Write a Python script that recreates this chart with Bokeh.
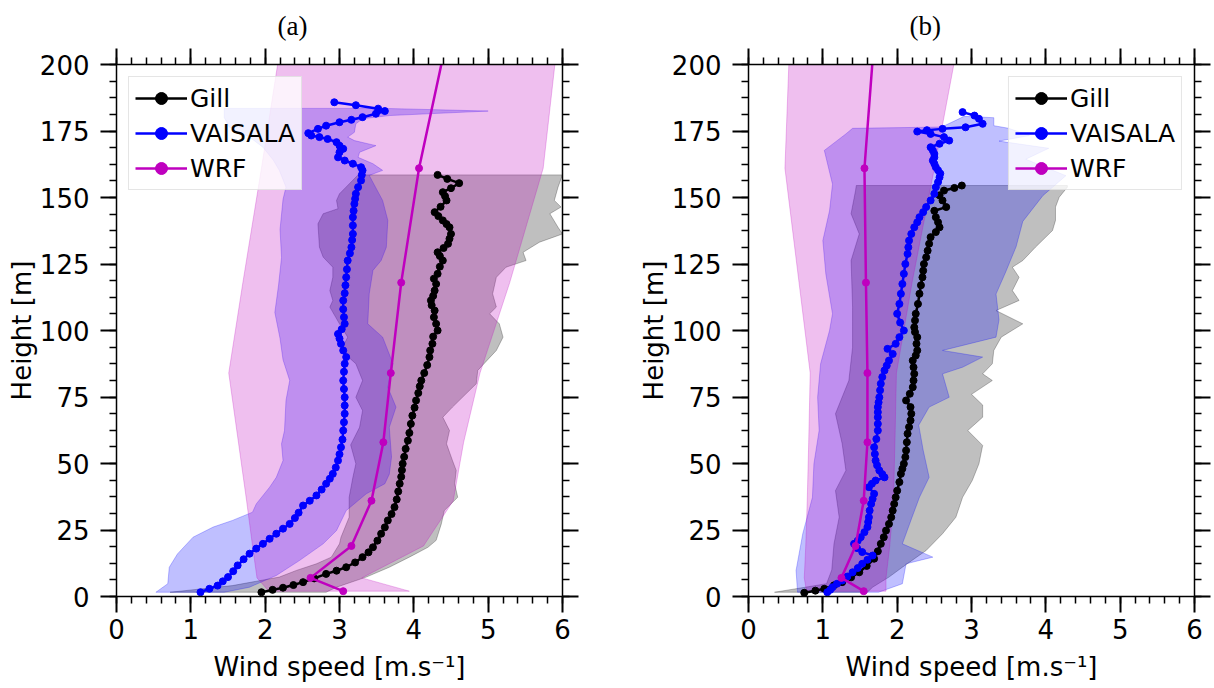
from bokeh.plotting import figure
from bokeh.layouts import row
from bokeh.models import LinearAxis, Range1d, SingleIntervalTicker, CustomJSTickFormatter, Spacer
from bokeh.embed import file_html
from bokeh.resources import INLINE

# ---------------- data: panel (a) ----------------
gill_a_h = [1.6, 2.5, 3.3, 4.3, 5.4, 6.8, 8.5, 9.7, 11.0, 12.8, 14.8, 16.6, 18.5, 21.0, 23.6, 26.0, 28.6, 31.0,
            33.6, 36.5, 39.5, 42.4, 45.0, 47.5, 49.9, 52.5, 55.5, 58.6, 61.5, 64.9, 68.0, 71.0, 73.7, 76.5, 79.0,
            81.2, 84.0, 87.0, 90.0, 92.5, 95.0, 97.7, 100.0, 102.5, 105.0, 107.5, 109.5, 111.3, 113.0, 115.0,
            117.5, 119.5, 121.3, 124.0, 126.3, 128.0, 129.4, 131.0, 132.6, 134.5, 136.3, 138.8, 140.0, 141.4,
            143.0, 144.5, 146.5, 148.9, 150.5, 152.0, 153.5, 155.4, 157.0, 158.5]
gill_a_v = [1.95, 2.10, 2.24, 2.38, 2.51, 2.66, 2.82, 2.96, 3.09, 3.21, 3.31, 3.39, 3.45, 3.51, 3.56, 3.61, 3.65, 3.70,
            3.74, 3.77, 3.79, 3.81, 3.83, 3.84, 3.85, 3.87, 3.89, 3.92, 3.94, 3.96, 3.98, 4.01, 4.03, 4.06, 4.08,
            4.10, 4.14, 4.18, 4.21, 4.22, 4.25, 4.26, 4.32, 4.30, 4.27, 4.28, 4.24, 4.23, 4.26, 4.28,
            4.30, 4.27, 4.32, 4.35, 4.39, 4.35, 4.32, 4.40, 4.46, 4.48, 4.50, 4.48, 4.44, 4.39,
            4.33, 4.28, 4.36, 4.44, 4.42, 4.39, 4.50, 4.61, 4.45, 4.32]

vais_a_h = [1.6, 2.9, 4.1, 5.7, 7.3, 9.5, 11.7, 14.0, 16.1, 18.0, 19.8, 21.7, 23.6, 25.5, 27.3, 29.5, 31.5, 34.2,
            36.0, 38.0, 40.2, 42.4, 44.3, 46.1, 48.5, 51.1, 53.5, 56.1, 59.0, 62.4, 65.5, 68.7, 71.8, 74.9, 78.0,
            81.2, 84.5, 87.5, 90.0, 92.5, 95.0, 97.0, 98.7, 100.5, 102.5, 105.0, 108.0, 111.3, 114.0, 117.0, 120.0,
            123.0, 126.3, 129.0, 131.3, 134.0, 136.3, 139.5, 142.6, 145.0, 147.6, 149.5, 151.4, 153.9, 156.4,
            158.5, 160.2, 161.4, 162.7, 163.9, 165.1, 167.0, 168.3, 169.5, 170.8, 172.0, 172.7, 173.3, 174.2,
            175.8, 177.0, 178.3, 179.2, 180.2, 181.5, 182.5, 183.4, 184.7, 185.8]
vais_a_v = [1.13, 1.25, 1.36, 1.43, 1.50, 1.57, 1.63, 1.71, 1.79, 1.88, 1.97, 2.06, 2.15, 2.24, 2.33, 2.40, 2.45, 2.51,
            2.60, 2.69, 2.76, 2.82, 2.87, 2.91, 2.95, 2.98, 3.00, 3.02, 3.04, 3.05, 3.06, 3.07, 3.07, 3.07, 3.06,
            3.05, 3.06, 3.07, 3.09, 3.05, 3.02, 3.00, 2.98, 3.03, 3.07, 3.06, 3.05, 3.05, 3.07, 3.08, 3.09,
            3.10, 3.11, 3.14, 3.16, 3.17, 3.18, 3.18, 3.18, 3.19, 3.20, 3.21, 3.22, 3.25, 3.29,
            3.30, 3.31, 3.29, 3.18, 3.07, 2.98, 3.00, 3.05, 3.00, 2.96, 2.84, 2.73, 2.62, 2.58,
            2.71, 2.82, 3.00, 3.16, 3.31, 3.49, 3.61, 3.52, 3.22, 2.93]

wrf_h = [2, 7, 19, 36, 58, 84, 118, 161, 213]
wrf_a_v = [3.05, 2.61, 3.16, 3.43, 3.59, 3.69, 3.83, 4.07, 4.47]
wrf_a_min = [2.05, 1.89, 1.83, 1.75, 1.64, 1.51, 1.70, 1.95, 2.24]
wrf_a_max = [3.94, 3.30, 4.13, 4.53, 4.67, 4.89, 5.29, 5.74, 5.95]

gill_band_a_left_h = [1.6, 4.1, 7.3, 9.8, 12.3, 14.8, 19.8, 22.3, 29.8, 37.3, 44.8, 49.9, 57.0, 63.6, 69.9, 74.9,
                      81.2, 87.5, 92.5, 97.5, 102.5, 108.8, 111.3, 115.0, 120.0, 123.8, 127.6, 131.3, 140.1,
                      143.9, 145.8, 148.9, 151.4, 158.5]
gill_band_a_left_v = [0.72, 1.56, 2.19, 2.42, 2.69, 2.89, 3.00, 3.02, 3.13, 3.13, 3.18, 3.22, 3.15, 3.27, 3.31, 3.22,
                      3.31, 3.22, 3.02, 3.11, 3.00, 2.87, 2.91, 2.87, 2.91, 2.91, 2.78, 2.73, 2.71,
                      2.78, 2.98, 2.96, 3.00, 3.25]
gill_band_a_right_h = [1.6, 3.5, 7.3, 11.0, 14.8, 18.5, 21.1, 27.3, 32.3, 37.3, 42.4, 47.4, 51.1, 57.4, 62.4, 67.4,
                       71.2, 80.0, 85.0, 92.5, 97.5, 102.5, 106.3, 108.8, 113.8, 120.0, 123.8, 126.3, 129.4,
                       133.2, 136.3, 138.8, 143.9, 146.4, 148.9, 153.9, 158.5]
gill_band_a_right_v = [2.82, 2.96, 3.36, 3.67, 3.94, 4.19, 4.30, 4.37, 4.41, 4.59, 4.55, 4.57, 4.52, 4.44, 4.48, 4.39,
                       4.52, 4.84, 4.86, 5.11, 5.20, 5.15, 5.02, 5.11, 5.06, 5.11, 5.24, 5.51, 5.47,
                       5.69, 6.00, 5.94, 5.83, 5.98, 5.89, 5.94, 6.00]

vais_band_a_left_h = [1.6, 4.8, 11.0, 16.0, 22.3, 26.1, 28.6, 31.7, 34.8, 41.1, 44.8, 51.1, 57.4, 62.4, 73.7, 81.2,
                      89.0, 97.0, 106.8, 117.0, 127.4, 138.0, 149.3, 153.9, 160.2, 164.0, 168.9, 172.7, 176.4,
                      180.0, 183.5]
vais_band_a_left_v = [0.53, 0.69, 0.71, 0.82, 1.03, 1.30, 1.56, 1.83, 1.88, 2.06, 2.15, 2.24, 2.22, 2.26, 2.28, 2.33,
                      2.24, 2.20, 2.13, 2.18, 2.22, 2.20, 2.24, 2.28, 2.19, 2.11, 1.97, 1.79, 1.52,
                      1.45, 1.45]
vais_band_a_right_h = [1.6, 3.5, 7.9, 13.5, 19.8, 24.8, 32.3, 38.6, 42.4, 46.0, 52.4, 63.6, 71.2, 78.7, 87.5, 92.5,
                       97.5, 102.5, 113.8, 122.6, 126.3, 131.3, 141.4, 148.9, 158.3, 160.2, 162.7, 165.1, 167.0,
                       169.5, 171.4, 172.7, 174.5, 177.7, 179.6, 180.8, 182.5, 183.5]
vais_band_a_right_v = [1.45, 1.79, 2.15, 2.46, 2.78, 2.96, 3.09, 3.36, 3.61, 3.67, 3.70, 3.67, 3.76, 3.65, 3.72, 3.65,
                       3.58, 3.38, 3.40, 3.45, 3.56, 3.63, 3.65, 3.58, 3.40, 3.58, 3.45, 3.25, 3.27,
                       3.49, 3.20, 3.11, 3.20, 3.22, 3.31, 3.67, 5.00, 3.60]

# ---------------- data: panel (b) ----------------
gill_b_h = [1.4, 2.2, 2.9, 4.2, 5.4, 7.2, 9.1, 11.5, 14.2, 17.0, 19.8, 22.3, 24.8, 27.3, 29.8, 32.3, 34.8, 37.3,
            39.8, 43.0, 46.1, 48.0, 49.9, 52.4, 54.9, 58.0, 61.2, 63.7, 66.2, 68.7, 71.2, 73.7, 76.2, 78.7, 81.2,
            83.7, 86.2, 88.7, 90.6, 92.5, 95.0, 97.5, 99.4, 101.2, 103.8, 106.3, 110.0, 113.8, 117.0, 120.0,
            122.5, 125.0, 127.5, 130.0, 132.6, 135.1, 137.0, 138.8, 140.7, 142.6, 145.0, 146.4, 148.9, 150.8,
            152.6, 153.6, 154.5]
gill_b_v = [0.75, 0.90, 1.02, 1.15, 1.26, 1.38, 1.49, 1.59, 1.69, 1.74, 1.78, 1.82, 1.85, 1.89, 1.92, 1.94, 1.96, 1.98,
            2.00, 2.03, 2.05, 2.07, 2.09, 2.11, 2.12, 2.13, 2.14, 2.16, 2.18, 2.19, 2.18, 2.12, 2.17, 2.21, 2.22,
            2.23, 2.22, 2.21, 2.25, 2.27, 2.26, 2.27, 2.24, 2.23, 2.24, 2.25, 2.28, 2.30, 2.32, 2.34,
            2.35, 2.36, 2.39, 2.41, 2.43, 2.45, 2.52, 2.57, 2.55, 2.52, 2.50, 2.66, 2.61, 2.57,
            2.63, 2.77, 2.87]

vais_b_h = [1.6, 2.5, 3.5, 4.8, 6.0, 7.5, 9.1, 10.7, 12.3, 13.8, 15.4, 16.7, 18.2, 19.8, 21.0, 22.3, 24.2, 26.1,
            28.0, 29.8, 32.3, 34.8, 36.7, 38.6, 41.1, 42.4, 43.6, 44.8, 46.0, 47.4, 49.3, 51.1, 53.6, 56.1, 59.2,
            62.4, 64.9, 67.4, 69.3, 71.2, 73.0, 74.9, 77.5, 80.0, 82.5, 85.0, 86.8, 88.7, 91.2, 93.1, 95.0, 97.5,
            100.0, 103.0, 106.3, 110.0, 113.8, 117.5, 121.3, 125.0, 128.8, 131.3, 133.8, 136.3, 138.8, 140.7,
            142.6, 144.5, 146.4, 148.9, 151.4, 153.9, 155.8, 157.6, 159.0, 160.2, 161.4, 162.7, 163.9, 165.1,
            166.4, 167.7, 168.9, 170.2, 171.4, 172.7, 173.9, 174.8, 175.3, 175.8, 176.4, 177.7, 179.6, 180.8,
            182.1]
vais_b_v = [1.06, 1.10, 1.13, 1.19, 1.26, 1.33, 1.40, 1.47, 1.53, 1.60, 1.67, 1.53, 1.46, 1.42, 1.47, 1.51, 1.56, 1.60,
            1.61, 1.62, 1.63, 1.65, 1.67, 1.69, 1.62, 1.66, 1.71, 1.83, 1.80, 1.76, 1.73, 1.71, 1.70, 1.69, 1.72,
            1.74, 1.74, 1.74, 1.74, 1.74, 1.75, 1.76, 1.77, 1.78, 1.80, 1.83, 1.86, 1.89, 1.94, 1.87, 1.98, 2.03,
            2.09, 2.04, 2.00, 2.03, 2.05, 2.07, 2.09, 2.11, 2.14, 2.15, 2.16, 2.19, 2.23, 2.27,
            2.30, 2.35, 2.39, 2.45, 2.50, 2.52, 2.55, 2.57, 2.58, 2.55, 2.52, 2.50, 2.48, 2.50,
            2.50, 2.48, 2.45, 2.57, 2.70, 2.63, 2.45, 2.27, 2.40, 2.61, 2.92, 3.15, 3.10, 3.04,
            2.88]

wrf_b_v = [1.55, 1.25, 1.44, 1.55, 1.60, 1.60, 1.58, 1.56, 1.70]
wrf_b_min = [0.78, 0.75, 0.77, 0.79, 0.81, 0.83, 0.68, 0.49, 0.56]
wrf_b_max = [1.85, 1.85, 1.90, 1.95, 1.97, 1.99, 2.20, 2.50, 2.85]

gill_band_b_left_h = [1.6, 4.8, 10.0, 19.8, 29.8, 39.8, 47.4, 57.4, 68.7, 81.2, 93.7, 108.8, 126.3, 136.3, 143.9,
                      152.6, 154.5]
gill_band_b_left_v = [0.35, 1.05, 1.12, 1.15, 1.22, 1.17, 1.31, 1.26, 1.17, 1.35, 1.40, 1.40, 1.38, 1.49, 1.38,
                      1.44, 1.45]
gill_band_b_right_h = [1.6, 3.5, 7.3, 11.0, 17.3, 23.6, 29.8, 37.3, 43.6, 49.9, 56.8, 62.4, 67.4, 72.0, 76.0, 81.2,
                       83.7, 87.5, 92.5, 97.5, 102.5, 107.5, 111.3, 115.0, 120.0, 123.8, 126.3, 131.3, 137.6,
                       141.4, 146.4, 150.1, 153.9, 154.5]
gill_band_b_right_v = [1.60, 1.67, 1.89, 2.07, 2.39, 2.61, 2.79, 2.88, 3.01, 3.10, 3.15, 2.95, 3.15, 3.15, 3.00, 3.28,
                       3.15, 3.28, 3.30, 3.40, 3.69, 3.33, 3.64, 3.55, 3.64, 3.55, 3.69, 3.86, 4.09,
                       4.13, 4.13, 4.18, 4.29, 4.29]

vais_band_b_left_h = [1.6, 9.8, 23.6, 37.3, 49.9, 62.4, 74.9, 87.5, 100.0, 106.3, 121.3, 133.8, 145.0, 155.0,
                      167.7, 173.9, 176.0]
vais_band_b_left_v = [0.66, 0.64, 0.73, 0.86, 0.88, 0.95, 0.93, 0.97, 1.09, 1.13, 1.04, 1.00, 1.09, 1.13,
                      1.02, 1.31, 1.40]
vais_band_b_right_h = [1.6, 4.8, 12.3, 14.8, 19.8, 29.8, 37.3, 44.8, 55.0, 64.4, 71.2, 74.9, 83.7, 86.2, 90.0, 92.5,
                       97.5, 104.0, 113.7, 122.0, 131.5, 141.0, 150.7, 158.2, 164.4, 168.5, 171.2, 173.3, 176.0,
                       177.0, 180.0, 180.5, 176.5]
vais_band_b_right_v = [1.75, 2.07, 2.12, 2.48, 2.07, 2.20, 2.30, 2.43, 2.35, 2.29, 2.43, 2.70, 2.61, 2.88, 3.15, 2.61,
                       3.33, 3.37, 3.33, 3.46, 3.60, 3.69, 3.96, 4.27, 3.73, 4.04, 3.37, 3.78, 3.50,
                       3.30, 3.30, 2.90, 2.60]

FONT = "DejaVu Sans"
GILL_C = "#000000"
VAIS_C = "#0000ff"
WRF_C = "#bf00bf"


def band(p, lh, lv, rh, rv, color):
    xs = list(lv) + list(rv)[::-1]
    ys = list(lh) + list(rh)[::-1]
    p.patch(xs, ys, fill_color=color, fill_alpha=0.25, line_color=color, line_alpha=0.25, line_width=1)


def style_axis(ax, labels=True):
    ax.axis_line_width = 1.5
    ax.axis_line_color = "black"
    ax.major_tick_in = 0
    ax.major_tick_out = 16
    ax.minor_tick_in = 0
    ax.minor_tick_out = 7
    ax.major_tick_line_width = 2
    ax.minor_tick_line_width = 1.5
    ax.major_tick_line_color = "black"
    ax.minor_tick_line_color = "black"
    ax.major_label_text_font = FONT
    ax.major_label_text_font_size = "26px"
    ax.major_label_text_color = "black"
    ax.axis_label_text_font = FONT
    ax.axis_label_text_font_size = "26px"
    ax.axis_label_text_font_style = "normal"
    ax.axis_label_text_color = "black"
    if not labels:
        ax.formatter = CustomJSTickFormatter(code="return ''")
        ax.major_label_standoff = 0


def panel(title, right_border, gill_h, gill_v, vais_h, vais_v, wrf_v, wrf_min, wrf_max,
          gb, vb, legend_loc):
    p = figure(frame_width=446, frame_height=532, x_range=Range1d(0, 6), y_range=Range1d(0, 200),
               output_backend="svg", toolbar_location=None,
               min_border_left=100, min_border_right=right_border, min_border_top=30, min_border_bottom=60,
               title=title)
    p.grid.visible = False
    p.outline_line_color = None
    p.background_fill_color = "white"
    p.border_fill_color = "white"

    p.title.align = "left"
    p.title.offset = 161
    p.title.standoff = 16
    p.title.text_font = "Liberation Serif"
    p.title.text_font_size = "27px"
    p.title.text_font_style = "normal"
    p.title.text_color = "black"

    xt = SingleIntervalTicker(interval=1, num_minor_ticks=5)
    yt = SingleIntervalTicker(interval=25, num_minor_ticks=4)
    p.xaxis.ticker = xt
    p.yaxis.ticker = yt
    p.xaxis.axis_label = "Wind speed [m.s\u207b\u00b9]"
    p.yaxis.axis_label = "Height [m]"
    style_axis(p.xaxis[0])
    style_axis(p.yaxis[0])
    p.xaxis.major_label_standoff = 6
    p.xaxis.axis_label_standoff = 10
    p.yaxis.major_label_standoff = 11
    p.yaxis.axis_label_standoff = 0

    top = LinearAxis(ticker=SingleIntervalTicker(interval=1, num_minor_ticks=5))
    right = LinearAxis(ticker=SingleIntervalTicker(interval=25, num_minor_ticks=4))
    style_axis(top, labels=False)
    style_axis(right, labels=False)
    p.add_layout(top, "above")
    p.add_layout(right, "right")

    band(p, *gb, "#000000")
    band(p, *vb, VAIS_C)
    band(p, wrf_h, wrf_min, wrf_h, wrf_max, WRF_C)

    p.line(gill_v, gill_h, line_color=GILL_C, line_width=2.5, legend_label="Gill")
    p.scatter(gill_v, gill_h, size=7, color=GILL_C, legend_label="Gill")
    p.line(vais_v, vais_h, line_color=VAIS_C, line_width=2.5, legend_label="VAISALA")
    p.scatter(vais_v, vais_h, size=7, color=VAIS_C, legend_label="VAISALA")
    p.line(wrf_v, wrf_h, line_color=WRF_C, line_width=2.5, legend_label="WRF")
    p.scatter(wrf_v, wrf_h, size=7, color=WRF_C, legend_label="WRF")

    lg = p.legend[0]
    lg.location = legend_loc
    lg.margin = 12
    lg.padding = 6
    lg.spacing = 5
    lg.glyph_width = 52
    lg.glyph_height = 30
    lg.label_height = 30
    lg.label_standoff = 3
    lg.label_text_font = FONT
    lg.label_text_font_size = "25px"
    lg.label_text_color = "black"
    lg.border_line_color = "#cccccc"
    lg.border_line_width = 1
    lg.background_fill_color = "white"
    lg.background_fill_alpha = 0.8
    return p


pa = panel("(a)", 73, gill_a_h, gill_a_v, vais_a_h, vais_a_v, wrf_a_v, wrf_a_min, wrf_a_max,
           (gill_band_a_left_h, gill_band_a_left_v, gill_band_a_right_h, gill_band_a_right_v),
           (vais_band_a_left_h, vais_band_a_left_v, vais_band_a_right_h, vais_band_a_right_v),
           "top_left")
pb = panel("(b)", 18, gill_b_h, gill_b_v, vais_b_h, vais_b_v, wrf_b_v, wrf_b_min, wrf_b_max,
           (gill_band_b_left_h, gill_band_b_left_v, gill_band_b_right_h, gill_band_b_right_v),
           (vais_band_b_left_h, vais_band_b_left_v, vais_band_b_right_h, vais_band_b_right_v),
           "top_right")

layout = row(Spacer(width=3), pa, pb)
open("out.html", "w").write(file_html(layout, INLINE))
